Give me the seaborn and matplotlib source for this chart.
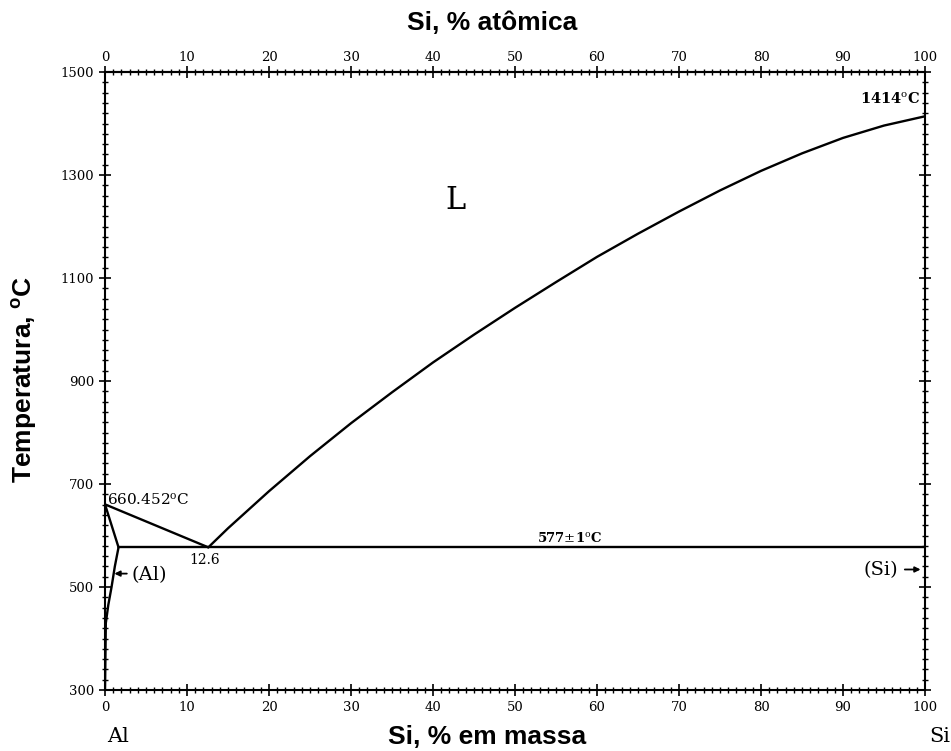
import numpy as np
import pandas as pd
import matplotlib
matplotlib.use("Agg")
import matplotlib.pyplot as plt
from matplotlib.ticker import MultipleLocator, FixedLocator
import seaborn as sns

# ---- data ----
liq_si_mass = [12.6, 15, 20, 25, 30, 35, 40, 45, 50, 55, 60, 65, 70, 75, 80, 85, 90, 95, 100]
liq_si_temp = [577, 614, 686, 754, 818, 878, 936, 990, 1042, 1092, 1141, 1186, 1229, 1270,
               1308, 1342, 1372, 1396, 1414]
liq_al_mass = [0, 12.6]
liq_al_temp = [660.452, 577]
solidus_mass = [0, 1.65]
solidus_temp = [660.452, 577]
solvus_mass = [1.65, 1.2, 0.8, 0.4, 0.1, 0.0]
solvus_temp = [577, 540, 500, 465, 430, 300]
eut_mass = [1.65, 100]
eut_temp = [577, 577]

bottom_ticks = [0, 10, 20, 30, 40, 50, 60, 70, 80, 90, 100]
top_ticks = [0, 10, 20, 30, 40, 50, 60, 70, 80, 90, 100]
temp_ticks = [300, 500, 700, 900, 1100, 1300, 1500]

segments = {
    "liq_si": (liq_si_mass, liq_si_temp),
    "liq_al": (liq_al_mass, liq_al_temp),
    "solidus": (solidus_mass, solidus_temp),
    "solvus": (solvus_mass, solvus_temp),
    "eutectic": (eut_mass, eut_temp),
}
rows = []
for name, (xs, ys) in segments.items():
    for i, (a, b) in enumerate(zip(xs, ys)):
        rows.append({"seg": name, "order": i, "mass": a, "temp": b})
df = pd.DataFrame(rows)

sns.set_theme(style="white")
plt.rcParams["font.family"] = ["DejaVu Serif"]
plt.rcParams["mathtext.fontset"] = "dejavuserif"
plt.rcParams["text.color"] = "black"
plt.rcParams["axes.labelcolor"] = "black"
plt.rcParams["xtick.color"] = "black"
plt.rcParams["ytick.color"] = "black"

fig = plt.figure(figsize=(9.51, 7.51), dpi=100)
ax = fig.add_axes([105 / 951, 1 - 690 / 751, 820 / 951, 618 / 751])

sns.lineplot(data=df, x="mass", y="temp", units="seg", estimator=None, sort=False,
             color="black", linewidth=1.7, ax=ax, legend=False)

ax.set_xlim(0, 100)
ax.set_ylim(300, 1500)
ax.set_xlabel("")
ax.set_ylabel("")

for s in ax.spines.values():
    s.set_visible(True)
    s.set_color("black")
    s.set_linewidth(1.5)

ax.xaxis.set_major_locator(FixedLocator(bottom_ticks))
ax.xaxis.set_minor_locator(MultipleLocator(1))
ax.yaxis.set_major_locator(FixedLocator(temp_ticks))
ax.yaxis.set_minor_locator(MultipleLocator(20))
ax.tick_params(axis="both", which="major", direction="inout", length=8, width=1.2,
               labelsize=9.5, colors="black", pad=4)
ax.tick_params(axis="both", which="minor", direction="inout", length=4, width=1.0, colors="black")
ax.tick_params(axis="y", which="both", right=True, left=True, labelright=False)
ax.tick_params(axis="x", which="both", bottom=True, top=False)

sec = ax.secondary_xaxis("top")
sec.xaxis.set_major_locator(FixedLocator(top_ticks))
sec.xaxis.set_minor_locator(MultipleLocator(1))
sec.tick_params(which="major", direction="inout", length=8, width=1.2, labelsize=9.5, pad=2,
                colors="black")
sec.tick_params(which="minor", direction="inout", length=4, width=1.0, colors="black")
sec.spines["top"].set_linewidth(1.5)

# annotations inside the plot
ax.text(0.3, 655, r"660.452$^{\rm o}$C", fontsize=11, ha="left", va="bottom")
ax.text(12.1, 566, "12.6", fontsize=10, ha="center", va="top")
ax.text(56.7, 581, r"577$\pm$1$^{\rm o}$C", fontsize=9.5, ha="center", va="bottom",
        fontweight="bold")
ax.text(99.4, 1433, r"1414$^{\rm o}$C", fontsize=10.5, ha="right", va="bottom",
        fontweight="bold")
ax.text(42.7, 1251, "L", fontsize=22, ha="center", va="center")
ax.text(3.2, 524, "(Al)", fontsize=14, ha="left", va="center")
ax.annotate("", xy=(0.8, 526), xytext=(3.0, 526),
            arrowprops=dict(arrowstyle="-|>", color="black", lw=1.3, mutation_scale=8))
ax.text(96.7, 533, "(Si)", fontsize=14, ha="right", va="center")
ax.annotate("", xy=(99.8, 534), xytext=(97.2, 534),
            arrowprops=dict(arrowstyle="-|>", color="black", lw=1.3, mutation_scale=8))

# axis titles
bold_sans = dict(family=["Liberation Sans", "DejaVu Sans"], fontweight="bold", fontsize=19,
                 color="black")
fig.text(492 / 951, 1 - 23 / 751, "Si, % atômica", ha="center", va="center", **bold_sans)
fig.text(487 / 951, 1 - 737 / 751, "Si, % em massa", ha="center", va="center", **bold_sans)
fig.text(25 / 951, 1 - 380 / 751, r"Temperatura, $^{\mathregular{o}}$C", ha="center",
         va="center", rotation=90, **bold_sans)
fig.text(118 / 951, 1 - 737 / 751, "Al", ha="center", va="center", fontsize=15)
fig.text(940 / 951, 1 - 737 / 751, "Si", ha="center", va="center", fontsize=15)

fig.savefig("out.png", dpi=100)
